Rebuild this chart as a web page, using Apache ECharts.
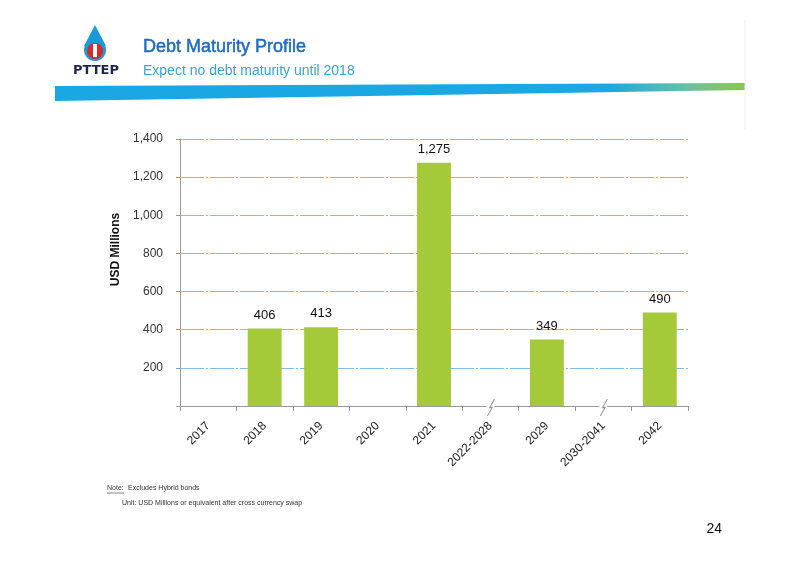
<!DOCTYPE html>
<html>
<head>
<meta charset="utf-8">
<script src="https://cdn.jsdelivr.net/npm/echarts@6/dist/echarts.min.js"></script>
<style>
  html, body { margin: 0; padding: 0; background: #fff; }
  #chart { width: 800px; height: 566px; }
</style>
</head>
<body>
<div id="chart"></div>
<script>
// 到期年份 / 金额 (USD Millions)
var years = ['2017', '2018', '2019', '2020', '2021', '2022-2028', '2029', '2030-2041', '2042'];
var amounts = [null, 406, 413, null, 1275, null, 349, null, 490];
var breakYears = ['2022-2028', '2030-2041'];
var yTicks = [0, 200, 400, 600, 800, 1000, 1200, 1400];

var FONT = '"Liberation Sans", Arial, sans-serif';

function draw_debt_profile() {
    var chart = echarts.init(document.getElementById('chart'));

    var option = {
        animation: false,
        textStyle: { fontFamily: FONT },
        grid: { left: 180, right: 112, top: 139, bottom: 160 },
        xAxis: {
            type: 'category',
            data: years,
            boundaryGap: true,
            axisLine: { lineStyle: { color: '#9a9a9a', width: 1 } },
            axisTick: { show: true, alignWithLabel: false, length: 5, lineStyle: { color: '#9a9a9a' } },
            axisLabel: {
                rotate: 45,
                interval: 0,
                margin: 18,
                color: '#222',
                fontSize: 12,
                fontFamily: FONT
            },
            splitLine: { show: false }
        },
        yAxis: {
            type: 'value',
            min: yTicks[0],
            max: yTicks[yTicks.length - 1],
            interval: 200,
            name: 'USD Millions',
            nameLocation: 'middle',
            nameRotate: 90,
            nameGap: 58,
            nameTextStyle: { color: '#111', fontSize: 12, fontWeight: 'bold', fontFamily: FONT, padding: [0, 0, 0, 46] },
            axisLine: { show: true, lineStyle: { color: '#9a9a9a' } },
            axisTick: { show: true, length: 4, lineStyle: { color: '#9a9a9a' } },
            axisLabel: {
                color: '#333',
                fontSize: 12,
                margin: 17,
                fontFamily: FONT,
                formatter: function (v) { return v === 0 ? '' : v.toLocaleString('en-US'); }
            },
            splitLine: {
                show: true,
                lineStyle: { color: '#86bce6', width: 1, type: [24, 2, 2, 2] }
            }
        },
        series: [{
            name: 'Debt',
            type: 'bar',
            data: amounts,
            barWidth: '60%',
            itemStyle: { color: '#a4ca3a' },
            label: {
                show: true,
                position: 'top',
                distance: 7,
                color: '#111',
                fontSize: 13,
                fontFamily: FONT,
                formatter: function (p) { return p.value == null ? '' : p.value.toLocaleString('en-US'); }
            }
        }],
        graphic: [
            // 页面顶部装饰带
            {
                type: 'polygon',
                shape: { points: [[55, 86], [745, 83], [745, 90], [55, 101]] },
                style: {
                    fill: new echarts.graphic.LinearGradient(0, 0, 1, 0, [
                        { offset: 0, color: '#1aa7e4' },
                        { offset: 0.8, color: '#1aa7e4' },
                        { offset: 0.92, color: '#6fc0a0' },
                        { offset: 1, color: '#8cc63f' }
                    ])
                }
            },
            { type: 'line', shape: { x1: 745, y1: 20, x2: 745, y2: 130 }, style: { stroke: '#eeeeee', lineWidth: 1 } },
            // logo
            {
                type: 'polygon',
                shape: { points: [[95, 25], [84, 46], [106, 46]] },
                style: { fill: '#1b9ad8' }
            },
            { type: 'circle', shape: { cx: 95, cy: 50, r: 11 }, style: { fill: '#1b9ad8' } },
            { type: 'circle', shape: { cx: 95, cy: 51, r: 8 }, style: { fill: '#d92a2a' } },
            { type: 'rect', shape: { x: 93, y: 44, width: 4, height: 13 }, style: { fill: '#ffffff' } },
            {
                type: 'text',
                style: { x: 96, y: 71, text: 'PTTEP', fill: '#1c2756', font: 'bold 13px "DejaVu Sans", ' + FONT, align: 'center', verticalAlign: 'middle' }
            },
            // 标题
            {
                type: 'text',
                style: { x: 143, y: 47, text: 'Debt Maturity Profile', fill: '#1e6cc0', stroke: '#1e6cc0', lineWidth: 0.5, font: '18px ' + FONT, verticalAlign: 'middle' }
            },
            {
                type: 'text',
                style: { x: 143, y: 71, text: 'Expect no debt maturity until 2018', fill: '#34a6de', font: '14px ' + FONT, verticalAlign: 'middle' }
            },
            // 注释
            {
                type: 'text',
                style: { x: 107, y: 488, text: 'Note:', fill: '#333', font: '7px ' + FONT, verticalAlign: 'middle' }
            },
            { type: 'line', shape: { x1: 107, y1: 493, x2: 124, y2: 493 }, style: { stroke: '#333', lineWidth: 0.6 } },
            {
                type: 'text',
                style: { x: 128, y: 488, text: 'Excludes Hybrid bonds', fill: '#333', font: '7px ' + FONT, verticalAlign: 'middle' }
            },
            {
                type: 'text',
                style: { x: 122, y: 503, text: 'Unit: USD Millions or equivalent after cross currency swap', fill: '#333', font: '7px ' + FONT, verticalAlign: 'middle' }
            },
            {
                type: 'text',
                style: { x: 722, y: 529, text: '24', fill: '#111', font: '14px ' + FONT, align: 'right', verticalAlign: 'middle' }
            }
        ]
    };
    chart.setOption(option);

    // 轴断裂标记
    var extra = [];
    breakYears.forEach(function (y) {
        var p = chart.convertToPixel({ xAxisIndex: 0, yAxisIndex: 0 }, [y, 0]);
        extra.push({
            type: 'rect',
            z: 100,
            shape: { x: p[0] - 4, y: p[1] - 2, width: 8, height: 4 },
            style: { fill: '#fff' }
        });
        extra.push({
            type: 'polyline',
            z: 101,
            shape: { points: [[p[0] + 4, p[1] - 7], [p[0] - 1, p[1] + 2], [p[0] + 2, p[1] + 1], [p[0] - 3, p[1] + 10]] },
            style: { stroke: '#8a8a8a', lineWidth: 1, fill: null }
        });
    });
    chart.setOption({ graphic: option.graphic.concat(extra) });
}

draw_debt_profile();
</script>
</body>
</html>
